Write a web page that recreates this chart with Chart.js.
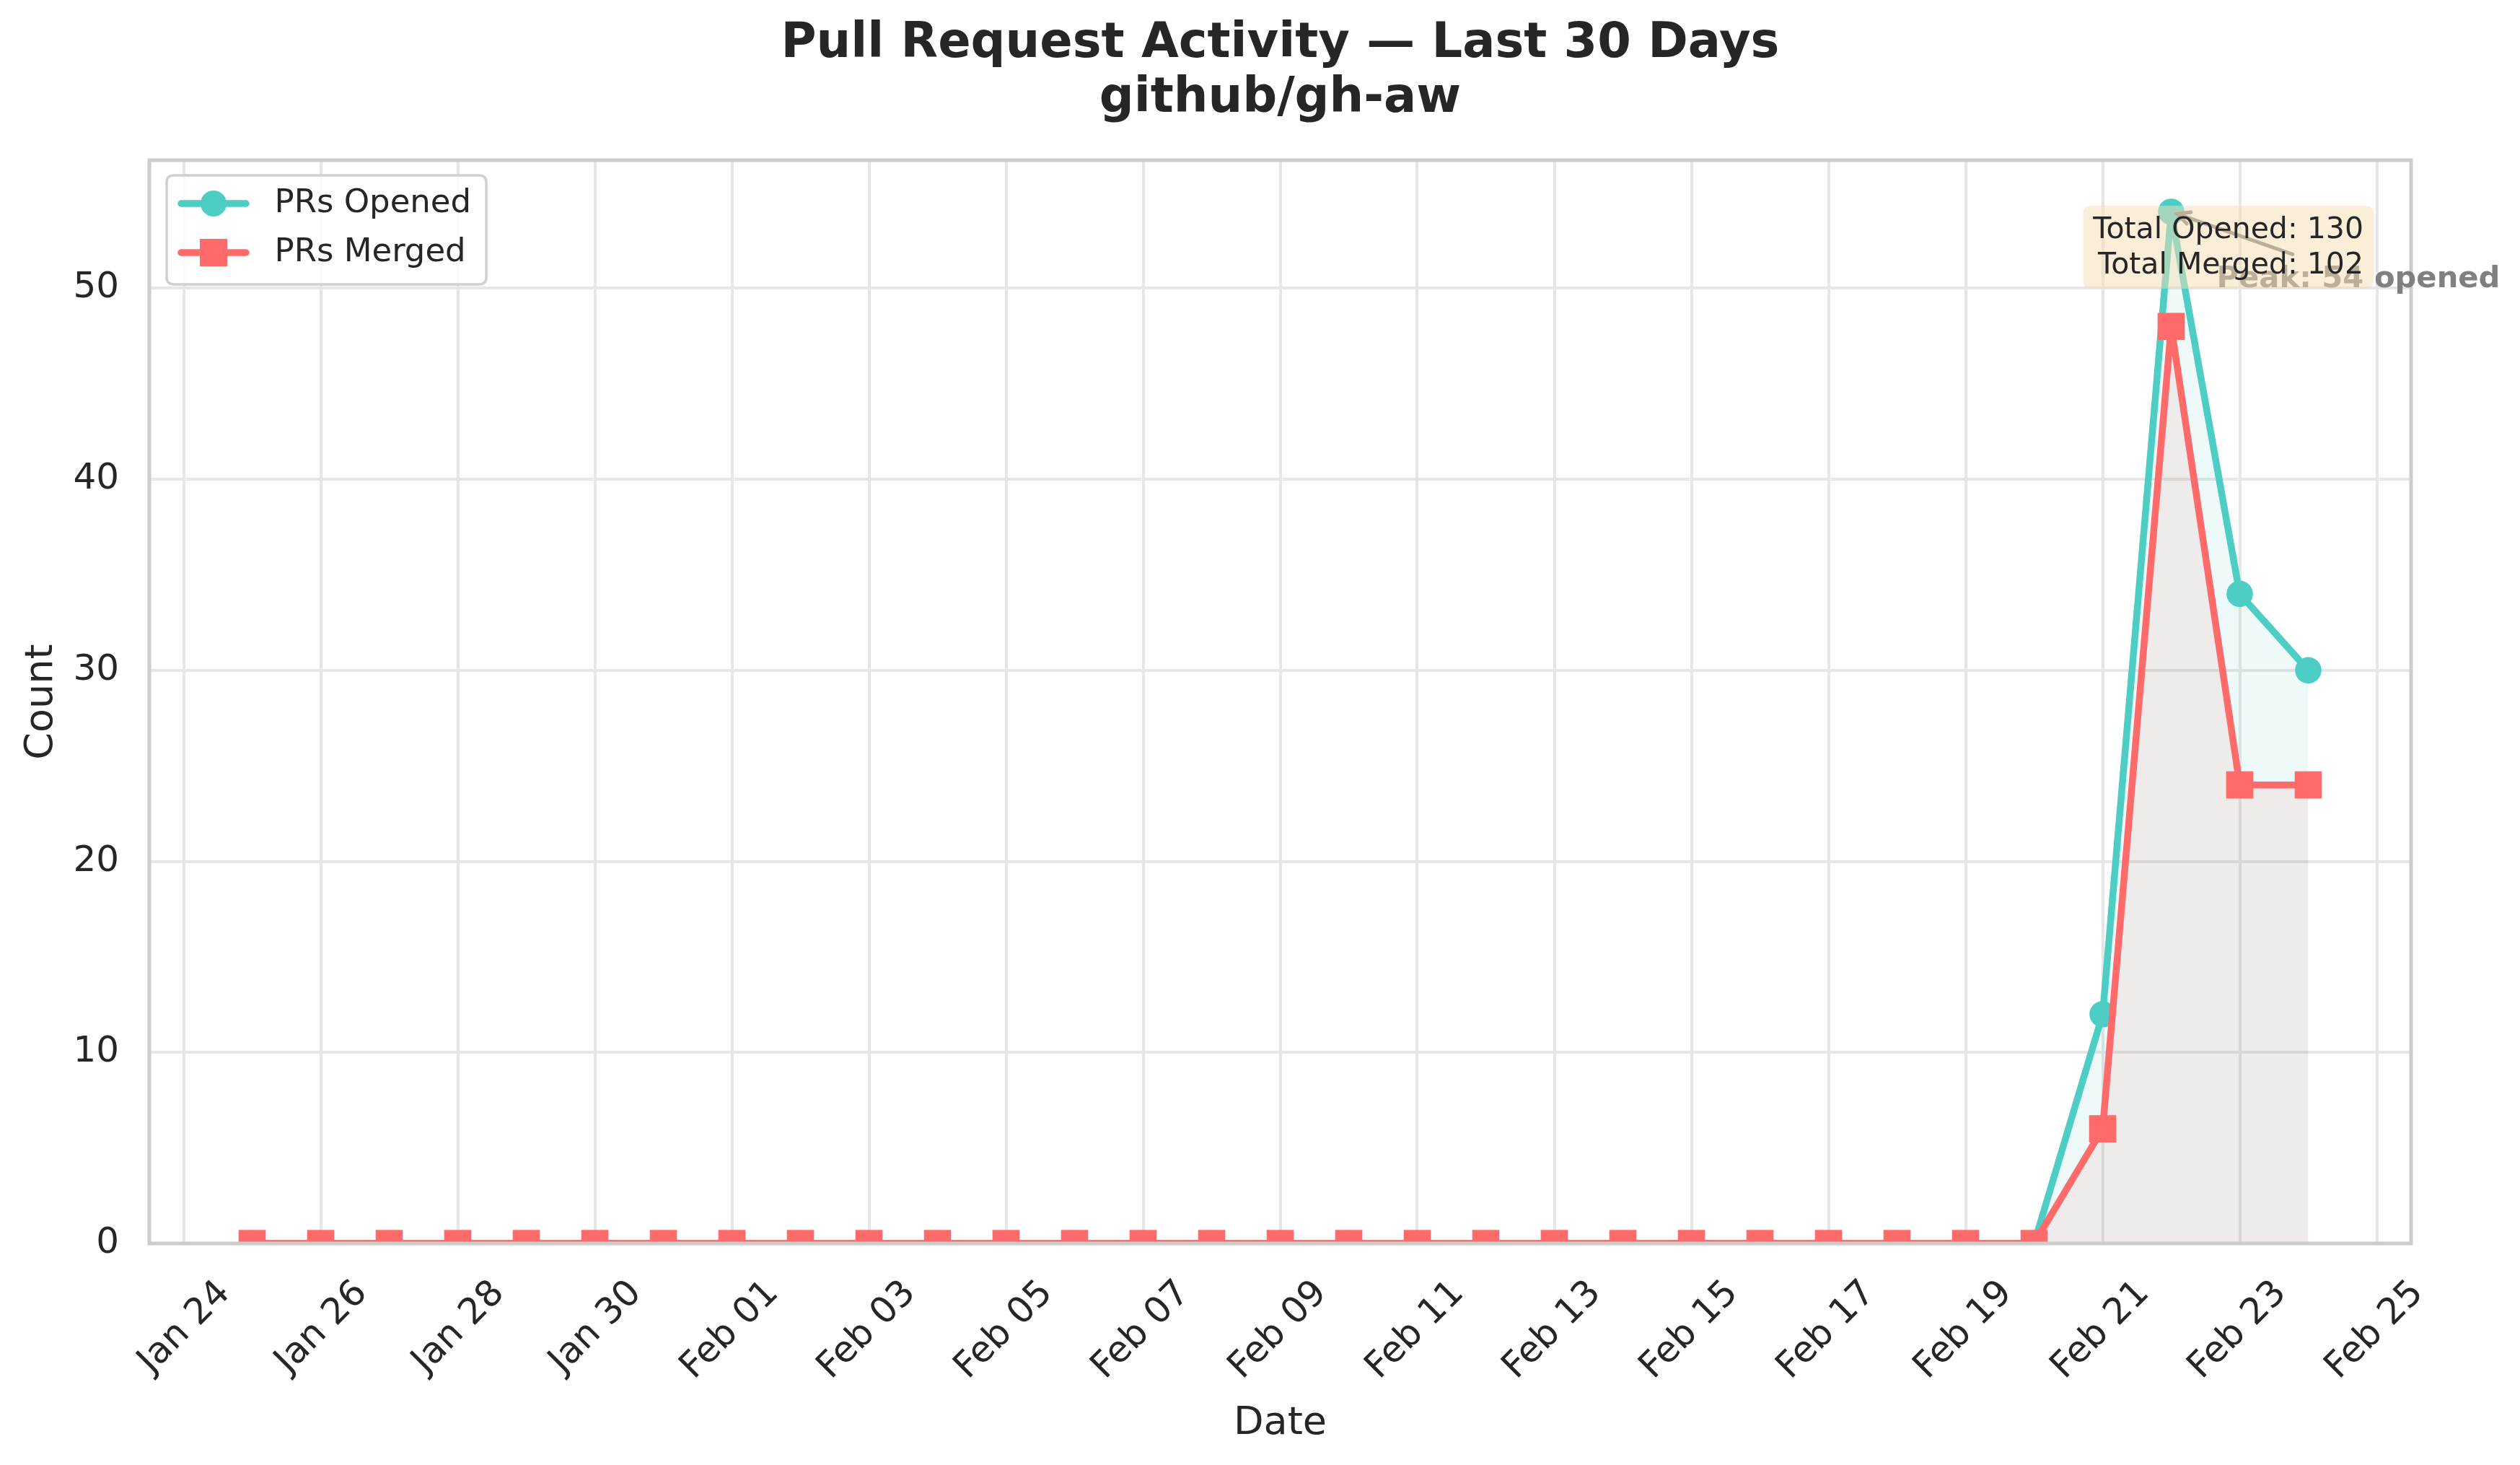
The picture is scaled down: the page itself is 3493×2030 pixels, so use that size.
<!DOCTYPE html>
<html><head><meta charset="utf-8">
<script src="https://cdn.jsdelivr.net/npm/chart.js@4.4.1/dist/chart.umd.min.js"></script>
<style>html,body{margin:0;padding:0;background:#fff;}</style>
</head><body>
<canvas id="c" width="3493" height="2030" style="width:3493px;height:2030px;display:block"></canvas>
<script>
// ---------------- data ----------------
const dates = ['Jan 25','Jan 26','Jan 27','Jan 28','Jan 29','Jan 30','Jan 31',
  'Feb 01','Feb 02','Feb 03','Feb 04','Feb 05','Feb 06','Feb 07','Feb 08','Feb 09','Feb 10',
  'Feb 11','Feb 12','Feb 13','Feb 14','Feb 15','Feb 16','Feb 17','Feb 18','Feb 19','Feb 20',
  'Feb 21','Feb 22','Feb 23','Feb 24'];
const opened = [0,0,0,0,0,0,0, 0,0,0,0,0,0,0,0,0,0, 0,0,0,0,0,0,0,0,0,0, 12,54,34,30];
const merged = [0,0,0,0,0,0,0, 0,0,0,0,0,0,0,0,0,0, 0,0,0,0,0,0,0,0,0,0, 6,48,24,24];
const tickLabels = ['Jan 24','Jan 26','Jan 28','Jan 30','Feb 01','Feb 03','Feb 05','Feb 07',
  'Feb 09','Feb 11','Feb 13','Feb 15','Feb 17','Feb 19','Feb 21','Feb 23','Feb 25'];
const yTicks = [0,10,20,30,40,50];
const titleLines = ['Pull Request Activity \u2014 Last 30 Days', 'github/gh-aw'];
const seriesNames = ['PRs Opened', 'PRs Merged'];

// ---------------- helpers ----------------
const MONTHS = {Jan:0, Feb:1};
function dayNum(lbl){ const p = lbl.split(' '); return Date.UTC(2025, MONTHS[p[0]], +p[1]) / 86400000; }
const t0 = dayNum(dates[0]);
const xPos = lbl => dayNum(lbl) - t0;
const TEAL = '#4ECDC4', RED = '#FF6B6B', INK = '#262626';
const FONT = "'DejaVu Sans', 'Liberation Sans', sans-serif";
Chart.defaults.font.family = FONT;
Chart.defaults.color = INK;

const xSpan = xPos(dates[dates.length-1]) - xPos(dates[0]);
const xMin = xPos(dates[0]) - 0.05 * xSpan;
const xMax = xPos(dates[dates.length-1]) + 0.05 * xSpan;
const yMax = Math.max(...opened, ...merged) * 1.05;

function legendHandle(color, style){
  const c = document.createElement('canvas');
  c.width = 128; c.height = 44;
  const g = c.getContext('2d');
  g.strokeStyle = color; g.lineWidth = 9.5; g.lineCap = 'round';
  g.beginPath(); g.moveTo(21, 22); g.lineTo(111, 22); g.stroke();
  g.fillStyle = color;
  if (style === 'circle') { g.beginPath(); g.arc(66, 22, 18, 0, Math.PI*2); g.fill(); }
  else { g.fillRect(66-19, 22-19, 38, 38); }
  return c;
}
const handles = [legendHandle(TEAL,'circle'), legendHandle(RED,'rect')];

function roundRect(ctx, x, y, w, h, r){
  ctx.beginPath();
  ctx.moveTo(x+r, y); ctx.lineTo(x+w-r, y); ctx.quadraticCurveTo(x+w, y, x+w, y+r);
  ctx.lineTo(x+w, y+h-r); ctx.quadraticCurveTo(x+w, y+h, x+w-r, y+h);
  ctx.lineTo(x+r, y+h); ctx.quadraticCurveTo(x, y+h, x, y+h-r);
  ctx.lineTo(x, y+r); ctx.quadraticCurveTo(x, y, x+r, y);
  ctx.closePath();
}

// legend: keep it inside the plot area and give it a frame
const legendFrame = {
  id: 'legendFrame',
  afterLayout(chart){
    const lg = chart.legend, ca = chart.chartArea;
    if (!lg) return;
    lg.top = ca.top; lg.bottom = ca.bottom; lg.height = ca.bottom - ca.top;
    if (lg.__patched) return;
    const orig = lg.draw;
    lg.draw = function(){
      const hb = this.legendHitBoxes || [];
      if (hb.length){
        const ctx = this.ctx;
        const l = Math.min(...hb.map(b=>b.left)) + 1;
        const t = Math.min(...hb.map(b=>b.top)) - 16.5;
        const r = Math.max(...hb.map(b=>b.left + b.width)) + 21;
        const b = Math.max(...hb.map(b=>b.top + b.height)) + 21.5;
        ctx.save();
        roundRect(ctx, l, t, r-l, b-t, 10);
        ctx.fillStyle = 'rgba(255,255,255,0.8)'; ctx.fill();
        ctx.lineWidth = 3.5; ctx.strokeStyle = '#d0d0d0'; ctx.stroke();
        ctx.restore();
      }
      return orig.apply(this, arguments);
    };
    lg.__patched = true;
  }
};

const overlays = {
  id: 'overlays',
  beforeDraw(chart){
    const ctx = chart.ctx; ctx.save(); ctx.fillStyle = '#fff';
    ctx.fillRect(0, 0, chart.width, chart.height); ctx.restore();
  },
  afterDatasetsDraw(chart){
    const ctx = chart.ctx, ca = chart.chartArea;
    // axes frame
    ctx.save();
    ctx.strokeStyle = '#cccccc'; ctx.lineWidth = 5;
    ctx.strokeRect(ca.left, ca.top, ca.right - ca.left, ca.bottom - ca.top);
    ctx.restore();

    // peak annotation
    const idx = opened.indexOf(Math.max(...opened));
    const pt = chart.getDatasetMeta(0).data[idx];
    const label = 'Peak: ' + opened[idx] + ' opened';
    ctx.save();
    ctx.font = 'bold 41.7px ' + FONT;
    const w = ctx.measureText(label).width;
    const tx = pt.x + 63, ty = pt.y + 105;
    const cx = tx + w/2, cy = ty - 14;
    const dx = pt.x - cx, dy = pt.y - cy, L = Math.hypot(dx, dy), ux = dx/L, uy = dy/L;
    const ts = (ty - 46 - cy) / uy;
    const sx = cx + ts*ux, sy = cy + ts*uy;
    const ex = pt.x - 9*ux, ey = pt.y - 9*uy;
    ctx.strokeStyle = '#808080'; ctx.lineWidth = 5; ctx.lineCap = 'round';
    ctx.beginPath(); ctx.moveTo(sx, sy); ctx.lineTo(ex, ey); ctx.stroke();
    const hl = 17, hw = 8.5;
    const nx = -uy, ny = ux;
    ctx.beginPath();
    ctx.moveTo(ex - hl*ux + hw*nx, ey - hl*uy + hw*ny); ctx.lineTo(ex, ey);
    ctx.lineTo(ex - hl*ux - hw*nx, ey - hl*uy - hw*ny);
    ctx.stroke();
    ctx.fillStyle = '#808080'; ctx.textAlign = 'left'; ctx.textBaseline = 'alphabetic';
    ctx.fillText(label, tx, ty);
    ctx.restore();

    // totals box
    const sum = a => a.reduce((s,v)=>s+v, 0);
    const lines = ['Total Opened: ' + sum(opened), 'Total Merged: ' + sum(merged)];
    ctx.save();
    ctx.font = '41px ' + FONT;
    const tw = Math.max(...lines.map(s => ctx.measureText(s).width));
    const right = ca.right - 66;
    const b1 = ca.top + 108;
    const pad = 14;
    roundRect(ctx, right - tw - pad, ca.top + 63, tw + 2*pad, 115, 12);
    ctx.fillStyle = 'rgba(245,222,179,0.5)'; ctx.fill();
    ctx.fillStyle = INK; ctx.textAlign = 'right'; ctx.textBaseline = 'alphabetic';
    lines.forEach((s,i) => ctx.fillText(s, right, b1 + i*49));
    ctx.restore();
  }
};

new Chart(document.getElementById('c'), {
  type: 'line',
  data: {
    datasets: [
      { label: seriesNames[0], data: opened.map((v,i)=>({x: xPos(dates[i]), y: v})),
        borderColor: TEAL, backgroundColor: 'rgba(78,205,196,0.1)', fill: 'origin',
        borderWidth: 9.5, borderJoinStyle: 'round', tension: 0,
        pointStyle: 'circle', pointRadius: 18.3, pointBackgroundColor: TEAL, pointBorderWidth: 0,
        pointHoverRadius: 18.3, clip: 0, order: 1 },
      { label: seriesNames[1], data: merged.map((v,i)=>({x: xPos(dates[i]), y: v})),
        borderColor: RED, backgroundColor: 'rgba(255,107,107,0.1)', fill: 'origin',
        borderWidth: 9.5, borderJoinStyle: 'round', tension: 0,
        pointStyle: 'rect', pointRadius: 26.6, pointBackgroundColor: RED, pointBorderWidth: 0,
        pointHoverRadius: 26.6, clip: 0, order: 0 }
    ]
  },
  options: {
    responsive: false, animation: false, devicePixelRatio: 1,
    layout: { padding: { top: 24, right: 151, bottom: 0, left: 0 } },
    plugins: {
      tooltip: { enabled: false },
      title: { display: true, text: titleLines, fullSize: false, color: INK,
        font: { size: 67, weight: 'bold', lineHeight: 1.134 }, padding: { top: 0, bottom: 46 } },
      legend: {
        position: 'chartArea', align: 'start',
        title: { display: true, text: '', font: { size: 1, lineHeight: 1 }, padding: { top: 13.5, bottom: 0 } },
        labels: {
          usePointStyle: true, pointStyleWidth: 128, padding: 23, color: INK,
          font: { size: 45 },
          sort: (a, b) => a.datasetIndex - b.datasetIndex,
          generateLabels(chart){
            const items = Chart.defaults.plugins.legend.labels.generateLabels(chart);
            items.forEach(it => { it.pointStyle = handles[it.datasetIndex]; });
            return items;
          }
        }
      }
    },
    scales: {
      x: {
        type: 'linear', min: xMin, max: xMax,
        afterBuildTicks: s => { s.ticks = tickLabels.map(l => ({ value: xPos(l) })); },
        afterFit: s => { s.height = 307; },
        ticks: { autoSkip: false, minRotation: 45, maxRotation: 45, padding: 40, labelOffset: 57,
          font: { size: 50 }, color: INK, callback: (v, i) => tickLabels[i] },
        grid: { color: '#e6e6e6', lineWidth: 4, drawTicks: false },
        border: { display: false },
        title: { display: true, text: 'Date', color: INK, font: { size: 54 }, padding: { top: 0, bottom: 25 } }
      },
      y: {
        type: 'linear', min: 0, max: yMax,
        afterBuildTicks: s => { s.ticks = yTicks.map(v => ({ value: v })); },
        afterFit: s => { s.width = 207; },
        ticks: { padding: 42, font: { size: 50 }, color: INK, includeBounds: false,
          callback: v => String(v) },
        grid: { color: '#e6e6e6', lineWidth: 4, drawTicks: false },
        border: { display: false },
        title: { display: true, text: 'Count', color: INK, font: { size: 54 }, padding: { top: 26, bottom: 0 } }
      }
    }
  },
  plugins: [legendFrame, overlays]
});
</script>
</body></html>
